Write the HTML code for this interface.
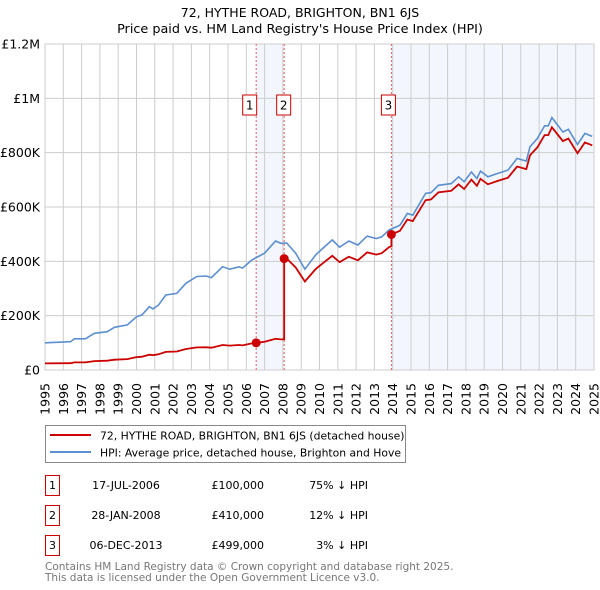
<!DOCTYPE html>
<html><head><meta charset="utf-8"><style>
html,body{margin:0;padding:0;background:#fff;width:600px;height:590px;overflow:hidden}
svg{display:block;font-family:"DejaVu Sans","Liberation Sans",sans-serif}
</style></head><body>
<svg id="chart" width="600" height="590" viewBox="0 0 600 590"></svg>
<script>
const hpiYears=[1995.0,1996.4,1996.6,1997.2,1997.7,1998.4,1998.8,1999.5,2000.0,2000.3,2000.7,2000.9,2001.2,2001.6,2002.2,2002.7,2003.3,2003.8,2004.1,2004.7,2005.1,2005.6,2005.8,2006.3,2007.0,2007.6,2007.9,2008.2,2008.7,2009.2,2009.8,2010.2,2010.7,2011.1,2011.6,2012.1,2012.6,2013.1,2013.4,2013.8,2014.4,2014.8,2015.1,2015.8,2016.1,2016.5,2017.2,2017.6,2017.9,2018.3,2018.6,2018.8,2019.2,2019.7,2020.3,2020.8,2021.3,2021.5,2021.9,2022.3,2022.5,2022.7,2023.3,2023.6,2024.1,2024.5,2024.9];
const hpiValues=[100,104,115,115,135,141,157,166,196,203,233,225,239,276,282,319,344,346,340,380,371,380,375,405,430,475,466,468,430,371,424,449,479,452,475,460,493,484,490,515,533,576,570,650,653,680,686,711,693,729,705,732,711,723,736,779,769,822,852,899,899,929,876,886,830,871,860];
const saleLabels=["1","2","3"];
const saleDates=["17-JUL-2006","28-JAN-2008","06-DEC-2013"];
const saleYears=[2006.54,2008.07,2013.93];
const salePrices=[100,410,499];
const salePriceText=["£100,000","£410,000","£499,000"];
const saleHpiText=["75% ↓ HPI","12% ↓ HPI","3% ↓ HPI"];
const yTicks=[0,200,400,600,800,1000,1200];
const yTickLabels=["£0","£200K","£400K","£600K","£800K","£1M","£1.2M"];
const xTicks=[1995,1996,1997,1998,1999,2000,2001,2002,2003,2004,2005,2006,2007,2008,2009,2010,2011,2012,2013,2014,2015,2016,2017,2018,2019,2020,2021,2022,2023,2024,2025];

const NS="http://www.w3.org/2000/svg";
const svg=document.getElementById('chart');
const L=45,R=594,T=44,B=370;
const x=yr=>L+(yr-1995)/30*(R-L);
const y=v=>B-v/1200*(B-T);
function el(tag,attrs,parent){const e=document.createElementNS(NS,tag);for(const k in attrs)e.setAttribute(k,attrs[k]);(parent||svg).appendChild(e);return e;}
function hpiAt(yr){for(let i=0;i<hpiYears.length-1;i++){if(yr<=hpiYears[i+1]){const t=(yr-hpiYears[i])/(hpiYears[i+1]-hpiYears[i]);return hpiValues[i]+t*(hpiValues[i+1]-hpiValues[i]);}}return hpiValues[hpiValues.length-1];}

let t=el('text',{x:300,y:17,'text-anchor':'middle','font-size':'12.5',fill:'#000'});t.textContent="72, HYTHE ROAD, BRIGHTON, BN1 6JS";

t=el('text',{x:300,y:33,'text-anchor':'middle','font-size':'12.8',fill:'#000'});t.textContent="Price paid vs. HM Land Registry's House Price Index (HPI)";


let s=el('rect',{x:x(saleYears[0]),y:T,width:x(saleYears[1])-x(saleYears[0]),height:B-T,fill:'#eef3fc',opacity:'0.7'});

s=el('rect',{x:x(saleYears[2]),y:T,width:R-x(saleYears[2]),height:B-T,fill:'#eef3fc',opacity:'0.7'});


xTicks.forEach(yr=>{const g=el('line',{x1:x(yr),x2:x(yr),y1:T,y2:B,stroke:'#cccccc','stroke-width':1});

const lt=el('text',{transform:`translate(${x(yr)+4.5},${383}) rotate(-90)`,'text-anchor':'end','font-size':'12.5',fill:'#000'});lt.textContent=yr;
});
yTicks.forEach((v,i)=>{const g=el('line',{x1:L,x2:R,y1:y(v),y2:y(v),stroke:'#cccccc','stroke-width':1});

const lt=el('text',{x:40,y:y(v)+4.5,'text-anchor':'end','font-size':'12.5',fill:'#000'});lt.textContent=yTickLabels[i];
});
el('rect',{x:L,y:T,width:R-L,height:B-T,fill:'none',stroke:'#cccccc'});

const boxOff=[-10,-10,-9.5];
saleYears.forEach((yr,i)=>{const d=el('line',{x1:x(yr),x2:x(yr),y1:T,y2:B,stroke:'#e06060','stroke-width':1,'stroke-dasharray':'2,2'});

const bx=x(yr)+(i==0?-13:(i==1?-10:-9.5))+ (i==1?3:0);
const g=el('g',{});
el('rect',{x:bx-0.5,y:95,width:14,height:20,fill:'#fff',stroke:'#cc0000'},g);
const tt=el('text',{x:bx+6.5,y:109.5,'text-anchor':'middle','font-size':'12',fill:'#000'},g);tt.textContent=saleLabels[i];});

let dp=hpiYears.map((yr,i)=>(i?'L':'M')+x(yr).toFixed(1)+','+y(hpiValues[i]).toFixed(1)).join(' ');
let hp=el('path',{d:dp,fill:'none',stroke:'#5b8fd0','stroke-width':1.6});


const pts=[];
function seg(a,b,ratio){const ys=[a,...hpiYears.filter(v=>v>a&&v<b),b];ys.forEach(v=>pts.push([v,hpiAt(v)*ratio]));}
seg(1995,saleYears[0],salePrices[0]/hpiAt(saleYears[0]));
seg(saleYears[0],saleYears[1],salePrices[0]/hpiAt(saleYears[0]));
seg(saleYears[1],saleYears[2],salePrices[1]/hpiAt(saleYears[1]));
seg(saleYears[2],hpiYears[hpiYears.length-1],salePrices[2]/hpiAt(saleYears[2]));
dp=pts.map((p,i)=>(i?'L':'M')+x(p[0]).toFixed(1)+','+y(p[1]).toFixed(1)).join(' ');
let pp=el('path',{d:dp,fill:'none',stroke:'#cc0000','stroke-width':1.8});

saleYears.forEach((yr,i)=>{const c=el('circle',{cx:x(yr),cy:y(salePrices[i]),r:4.5,fill:'#cc0000'});
});

const lg=el('g',{});
el('rect',{x:45.5,y:425.5,width:360,height:37,fill:'#fff',stroke:'#888'},lg);
el('line',{x1:50,x2:91,y1:435,y2:435,stroke:'#cc0000','stroke-width':2},lg);
el('line',{x1:50,x2:91,y1:452,y2:452,stroke:'#5b8fd0','stroke-width':2},lg);
t=el('text',{x:100,y:439.5,'font-size':'10.8',fill:'#000'},lg);t.textContent="72, HYTHE ROAD, BRIGHTON, BN1 6JS (detached house)";

t=el('text',{x:100,y:456.5,'font-size':'10.8',fill:'#000'},lg);t.textContent="HPI: Average price, detached house, Brighton and Hove";


saleLabels.forEach((lab,i)=>{const ry=475+i*30;const g=el('g',{});

el('rect',{x:45.5,y:ry+0.5,width:14,height:20,fill:'#fff',stroke:'#cc0000'},g);
let a=el('text',{x:52.5,y:ry+14,'text-anchor':'middle','font-size':'11'},g);a.textContent=lab;
a=el('text',{x:126,y:ry+14,'text-anchor':'middle','font-size':'11'},g);a.textContent=saleDates[i];
a=el('text',{x:264,y:ry+14,'text-anchor':'end','font-size':'11'},g);a.textContent=salePriceText[i];
a=el('text',{x:368,y:ry+14,'text-anchor':'end','font-size':'11'},g);a.textContent=saleHpiText[i];});

t=el('text',{x:45,y:570,'font-size':'10.5',fill:'#777'});t.textContent="Contains HM Land Registry data © Crown copyright and database right 2025.";

t=el('text',{x:45,y:581,'font-size':'10.5',fill:'#777'});t.textContent="This data is licensed under the Open Government Licence v3.0.";

</script>
</body></html>
